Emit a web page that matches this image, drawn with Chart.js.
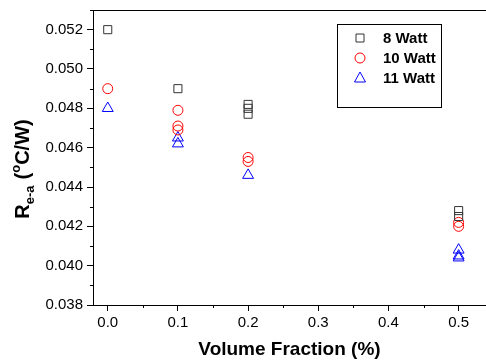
<!DOCTYPE html>
<html>
<head>
<meta charset="utf-8">
<script src="https://cdn.jsdelivr.net/npm/chart.js@4.4.0/dist/chart.umd.min.js"></script>
<style>
  body { margin: 0; background: #fff; }
</style>
</head>
<body>
<canvas id="grafica" width="486" height="361"></canvas>
<script>
// series names
const seriesNames = ['8 Watt', '10 Watt', '11 Watt'];

// volume fraction (x) per series
const x8W  = [0.0, 0.1, 0.2, 0.2, 0.2, 0.5, 0.5];
const x10W = [0.0, 0.1, 0.1, 0.1, 0.2, 0.2, 0.5, 0.5];
const x11W = [0.0, 0.1, 0.1, 0.2, 0.5, 0.5, 0.5];

// R e-a (°C/W) per series
const y8W  = [0.0520, 0.0490, 0.0482, 0.0480, 0.0477, 0.0428, 0.0425];
const y10W = [0.0490, 0.0479, 0.0471, 0.0469, 0.0455, 0.0453, 0.0422, 0.0420];
const y11W = [0.0480, 0.0465, 0.0462, 0.0446, 0.0408, 0.0405, 0.0404];

// tick labels
const xTicks = [0.0, 0.1, 0.2, 0.3, 0.4, 0.5];
const yTicks = [0.038, 0.040, 0.042, 0.044, 0.046, 0.048, 0.050, 0.052];
const xMinor = [0.05, 0.15, 0.25, 0.35, 0.45];
const yMinor = [0.039, 0.041, 0.043, 0.045, 0.047, 0.049, 0.051, 0.053];

function pares(xs, ys) {
    return xs.map(function(v, i) { return { x: v, y: ys[i] }; });
}

const fuente = 'Arial, "Liberation Sans", sans-serif';

// frame top line + minor ticks
const marco = {
    id: 'marco',
    afterDraw: function(grafica) {
        const ctx = grafica.ctx;
        const area = grafica.chartArea;
        const ex = grafica.scales.x;
        const ey = grafica.scales.y;
        ctx.save();
        ctx.strokeStyle = '#000';
        ctx.lineWidth = 1;
        ctx.beginPath();
        ctx.moveTo(area.left, Math.round(area.top) + 0.5);
        ctx.lineTo(area.right, Math.round(area.top) + 0.5);
        yMinor.forEach(function(v) {
            const py = Math.round(ey.getPixelForValue(v)) + 0.5;
            ctx.moveTo(area.left, py);
            ctx.lineTo(area.left - 3, py);
        });
        xMinor.forEach(function(v) {
            const px = Math.round(ex.getPixelForValue(v)) + 0.5;
            ctx.moveTo(px, area.bottom);
            ctx.lineTo(px, area.bottom + 3);
        });
        ctx.stroke();
        ctx.restore();
    }
};

// y axis title with sub/superscript
const tituloY = {
    id: 'tituloY',
    afterDraw: function(grafica) {
        const ctx = grafica.ctx;
        const partes = [
            { t: 'R', size: 20, dy: 0, extra: 0 },
            { t: 'e-a', size: 13, dy: 5, extra: 6 },
            { t: '(', size: 20, dy: 0, extra: 0 },
            { t: 'o', size: 13, dy: -9, extra: 0 },
            { t: 'C/W)', size: 20, dy: 0, extra: 0 }
        ];
        ctx.save();
        let total = 0;
        partes.forEach(function(p) {
            ctx.font = 'bold ' + p.size + 'px ' + fuente;
            p.w = ctx.measureText(p.t).width + p.extra;
            total += p.w;
        });
        ctx.translate(29, 169);
        ctx.rotate(-Math.PI / 2);
        ctx.fillStyle = '#000';
        ctx.textBaseline = 'alphabetic';
        let pos = -total / 2;
        partes.forEach(function(p) {
            ctx.font = 'bold ' + p.size + 'px ' + fuente;
            ctx.fillText(p.t, pos, p.dy);
            pos += p.w;
        });
        ctx.restore();
    }
};

// legend box inside plot
const leyenda = {
    id: 'leyenda',
    afterDraw: function(grafica) {
        const ctx = grafica.ctx;
        ctx.save();
        ctx.strokeStyle = '#000';
        ctx.lineWidth = 1;
        ctx.strokeRect(337.5, 24.5, 104, 83);
        grafica.data.datasets.forEach(function(ds, i) {
            const cx = 360;
            const cy = 38 + i * 20;
            ctx.strokeStyle = ds.borderColor;
            ctx.lineWidth = 1;
            ctx.beginPath();
            if (ds.pointStyle === 'rect') {
                ctx.rect(cx - 4, cy - 4, 8, 8);
            } else if (ds.pointStyle === 'circle') {
                ctx.arc(cx, cy, 5, 0, Math.PI * 2);
            } else {
                ctx.moveTo(cx, cy - 6);
                ctx.lineTo(cx + 5.5, cy + 4);
                ctx.lineTo(cx - 5.5, cy + 4);
                ctx.closePath();
            }
            ctx.stroke();
            ctx.fillStyle = '#000';
            ctx.font = 'bold 15px ' + fuente;
            ctx.textBaseline = 'middle';
            ctx.fillText(ds.label, 383, cy + 1);
        });
        ctx.restore();
    }
};

new Chart(document.getElementById('grafica'), {
    type: 'scatter',
    data: {
        datasets: [{
            label: seriesNames[0],
            data: pares(x8W, y8W),
            pointStyle: 'rect',
            pointRadius: 5.7,
            borderColor: '#333333',
            backgroundColor: 'rgba(0,0,0,0)',
            borderWidth: 1
        }, {
            label: seriesNames[1],
            data: pares(x10W, y10W),
            pointStyle: 'circle',
            pointRadius: 5,
            borderColor: '#ff0000',
            backgroundColor: 'rgba(0,0,0,0)',
            borderWidth: 1
        }, {
            label: seriesNames[2],
            data: pares(x11W, y11W),
            pointStyle: 'triangle',
            pointRadius: 6.3,
            borderColor: '#0000ff',
            backgroundColor: 'rgba(0,0,0,0)',
            borderWidth: 1
        }]
    },
    options: {
        responsive: false,
        animation: false,
        layout: {
            autoPadding: false,
            padding: { top: 10, right: 0, left: 0, bottom: 0 }
        },
        plugins: {
            legend: { display: false },
            tooltip: { enabled: false }
        },
        scales: {
            x: {
                type: 'linear',
                min: -0.021,
                max: 0.539,
                afterFit: function(escala) {
                    escala.height = 56;
                    escala.paddingLeft = 0;
                    escala.paddingRight = 0;
                },
                afterBuildTicks: function(escala) {
                    escala.ticks = xTicks.map(function(v) { return { value: v }; });
                },
                border: { display: true, color: '#000', width: 1 },
                grid: {
                    drawOnChartArea: false,
                    drawTicks: true,
                    tickLength: 6,
                    color: '#000'
                },
                ticks: {
                    color: '#000',
                    padding: 3,
                    font: { family: fuente, size: 15 },
                    callback: function(v) { return Number(v).toFixed(1); }
                },
                title: {
                    display: true,
                    text: 'Volume Fraction (%)',
                    color: '#000',
                    font: { family: fuente, size: 19, weight: 'bold' },
                    padding: { top: 0, bottom: 0 }
                }
            },
            y: {
                type: 'linear',
                min: 0.038,
                max: 0.053,
                afterFit: function(escala) {
                    escala.width = 93;
                    escala.paddingTop = 0;
                    escala.paddingBottom = 0;
                },
                afterBuildTicks: function(escala) {
                    escala.ticks = yTicks.map(function(v) { return { value: v }; });
                },
                border: { display: true, color: '#000', width: 1 },
                grid: {
                    drawOnChartArea: false,
                    drawTicks: true,
                    tickLength: 6,
                    color: '#000'
                },
                ticks: {
                    color: '#000',
                    padding: 4,
                    font: { family: fuente, size: 15 },
                    callback: function(v) { return Number(v).toFixed(3); }
                }
            }
        }
    },
    plugins: [marco, tituloY, leyenda]
});
</script>
</body>
</html>
